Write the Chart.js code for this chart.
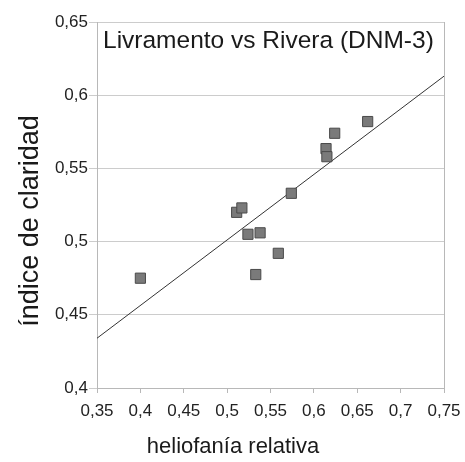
<!DOCTYPE html>
<html>
<head>
<meta charset="utf-8">
<script src="https://cdn.jsdelivr.net/npm/chart.js@4/dist/chart.umd.min.js"></script>
<style>
  html, body { margin: 0; padding: 0; background: #fff; }
  #wrap { width: 465px; height: 462px; }
</style>
</head>
<body>
<div id="wrap"><canvas id="c" width="465" height="462"></canvas></div>
<script>
const chartTitle = "Livramento vs Rivera (DNM-3)";
const xTitle = "heliofanía relativa";
const yTitle = "índice de claridad";

const heliofania = [0.400, 0.511, 0.517, 0.524, 0.533, 0.538, 0.559, 0.574, 0.614, 0.615, 0.624, 0.662];
const claridad   = [0.475, 0.520, 0.523, 0.505, 0.4775, 0.506, 0.492, 0.533, 0.5635, 0.558, 0.574, 0.582];

const trendX = [0.35, 0.75];
const trendY = [0.434, 0.613];

const xTicks = [0.35, 0.40, 0.45, 0.50, 0.55, 0.60, 0.65, 0.70, 0.75];
const yTicks = [0.40, 0.45, 0.50, 0.55, 0.60, 0.65];

const fmt = v => String(Math.round(v * 100) / 100).replace('.', ',');

const textPlugin = {
  id: 'textPlugin',
  afterDraw(chart) {
    const ctx = chart.ctx;
    const ca = chart.chartArea;
    ctx.save();
    // right border of plot
    ctx.strokeStyle = '#b8b8b8';
    ctx.lineWidth = 1;
    ctx.beginPath();
    ctx.moveTo(Math.round(ca.right) + 0.5, ca.top);
    ctx.lineTo(Math.round(ca.right) + 0.5, ca.bottom);
    ctx.stroke();
    // in-plot title
    ctx.fillStyle = '#1a1a1a';
    ctx.font = '24.5px "Liberation Sans", Arial, sans-serif';
    ctx.textAlign = 'left';
    ctx.textBaseline = 'alphabetic';
    ctx.fillText(chartTitle, 103, 48);
    // x title
    ctx.font = '22px "Liberation Sans", Arial, sans-serif';
    ctx.textAlign = 'center';
    ctx.fillText(xTitle, 233, 453);
    // y title
    ctx.translate(38, 221);
    ctx.rotate(-Math.PI / 2);
    ctx.font = '27px "Liberation Sans", Arial, sans-serif';
    ctx.textAlign = 'center';
    ctx.fillText(yTitle, 0, 0);
    ctx.restore();
  }
};

new Chart(document.getElementById('c'), {
  type: 'scatter',
  data: {
    datasets: [
      {
        type: 'line',
        data: trendX.map((x, i) => ({ x: x, y: trendY[i] })),
        borderColor: '#333333',
        borderWidth: 1,
        pointRadius: 0,
        fill: false,
        order: 2
      },
      {
        type: 'scatter',
        data: heliofania.map((x, i) => ({ x: x, y: claridad[i] })),
        pointStyle: 'rect',
        pointRadius: 7.2,
        backgroundColor: '#7a7a7a',
        borderColor: '#4a4a4a',
        borderWidth: 1,
        order: 1
      }
    ]
  },
  options: {
    responsive: false,
    animation: false,
    layout: { padding: { left: 0, right: 21, top: 22, bottom: 0 } },
    plugins: {
      legend: { display: false },
      tooltip: { enabled: false },
      title: { display: false }
    },
    scales: {
      x: {
        type: 'linear',
        min: 0.35,
        max: 0.75,
        afterBuildTicks: s => { s.ticks = xTicks.map(v => ({ value: v })); },
        afterFit: s => { s.height = 74; s.paddingLeft = 0; s.paddingRight = 0; },
        ticks: {
          callback: v => fmt(v),
          color: '#222',
          font: { family: '"Liberation Sans", Arial, sans-serif', size: 17 },
          padding: 8,
          maxRotation: 0,
          autoSkip: false
        },
        grid: {
          drawOnChartArea: false,
          drawTicks: true,
          tickLength: 5,
          color: '#b8b8b8'
        },
        border: { display: true, color: '#b8b8b8' }
      },
      y: {
        type: 'linear',
        min: 0.40,
        max: 0.65,
        afterBuildTicks: s => { s.ticks = yTicks.map(v => ({ value: v })); },
        afterFit: s => { s.width = 97; s.paddingTop = 0; s.paddingBottom = 0; },
        ticks: {
          callback: v => fmt(v),
          color: '#222',
          font: { family: '"Liberation Sans", Arial, sans-serif', size: 17 },
          padding: 1,
          autoSkip: false
        },
        grid: {
          color: '#cccccc',
          drawTicks: true,
          tickLength: 8
        },
        border: { display: true, color: '#b8b8b8' }
      }
    }
  },
  plugins: [textPlugin]
});
</script>
</body>
</html>
